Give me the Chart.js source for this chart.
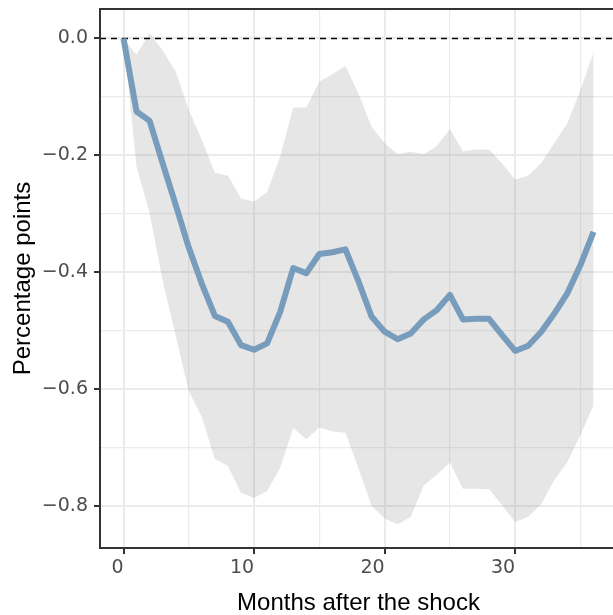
<!DOCTYPE html>
<html>
<head>
<meta charset="utf-8">
<script src="https://cdn.jsdelivr.net/npm/chart.js@4"></script>
<style>
html, body { margin:0; padding:0; overflow:hidden; background:#fff; }
#wrap { position:absolute; left:0; top:0; width:620px; height:615px; }
</style>
</head>
<body>
<div id="wrap"><canvas id="c"></canvas></div>
<script>
// ---- data ----
const months = [0,1,2,3,4,5,6,7,8,9,10,11,12,13,14,15,16,17,18,19,20,21,22,23,24,25,26,27,28,29,30,31,32,33,34,35,36];
const estimate = [0,-0.125,-0.141,-0.214,-0.285,-0.358,-0.42,-0.475,-0.485,-0.525,-0.533,-0.522,-0.468,-0.393,-0.402,-0.369,-0.366,-0.361,-0.416,-0.476,-0.502,-0.515,-0.505,-0.481,-0.465,-0.439,-0.481,-0.48,-0.48,-0.508,-0.535,-0.526,-0.502,-0.471,-0.436,-0.388,-0.331];
const upperBand = [0,-0.028,0.009,-0.02,-0.057,-0.122,-0.174,-0.23,-0.235,-0.274,-0.279,-0.263,-0.202,-0.118,-0.118,-0.074,-0.061,-0.047,-0.094,-0.151,-0.179,-0.198,-0.194,-0.198,-0.184,-0.155,-0.193,-0.19,-0.19,-0.214,-0.242,-0.235,-0.213,-0.179,-0.145,-0.088,-0.024];
const lowerBand = [0,-0.22,-0.299,-0.415,-0.509,-0.604,-0.648,-0.72,-0.732,-0.778,-0.787,-0.775,-0.735,-0.667,-0.686,-0.666,-0.673,-0.675,-0.736,-0.80,-0.822,-0.832,-0.819,-0.765,-0.747,-0.726,-0.771,-0.771,-0.772,-0.799,-0.828,-0.819,-0.797,-0.756,-0.725,-0.679,-0.628];
const xTicks = [0,5,10,15,20,25,30,35];
const yTicks = [-0.8,-0.7,-0.6,-0.5,-0.4,-0.3,-0.2,-0.1,0.0];
const xTitle = 'Months after the shock';
const yTitle = 'Percentage points';

const pts = arr => months.map((m,i)=>({x:m, y:arr[i]}));
const isMajorX = v => Math.round(v) % 10 === 0;
const isMajorY = v => Math.round(Math.abs(v)*10) % 2 === 0;
const fmtY = v => { const s = Math.abs(v).toFixed(1); return (v < -1e-9 ? '\u2212' : '') + s; };

const zeroLine = {
  id:'zeroLine',
  beforeDatasetDraw(chart, args) {
    if (args.index !== 2) return;
    const {ctx, chartArea:a, scales:{y}} = chart;
    const py = y.getPixelForValue(0);
    ctx.save();
    ctx.beginPath(); ctx.rect(a.left, a.top, a.right-a.left, a.bottom-a.top); ctx.clip();
    ctx.strokeStyle = '#000'; ctx.lineWidth = 1.6; ctx.setLineDash([6,5]);
    ctx.beginPath(); ctx.moveTo(a.left, py); ctx.lineTo(a.right, py); ctx.stroke();
    ctx.restore();
  }
};
const panelBorder = {
  id:'panelBorder',
  afterDraw(chart) {
    const {ctx, chartArea:a} = chart;
    ctx.save();
    ctx.strokeStyle = '#333'; ctx.lineWidth = 2;
    ctx.strokeRect(a.left, a.top, a.right-a.left, a.bottom-a.top);
    ctx.restore();
  }
};

new Chart(document.getElementById('c'), {
  type:'line',
  data:{
    datasets:[
      { data:pts(upperBand), borderWidth:0, pointRadius:0, fill:'+1', backgroundColor:'rgba(128,128,128,0.2)', order:2 },
      { data:pts(lowerBand), borderWidth:0, pointRadius:0, fill:false, order:3 },
      { data:pts(estimate), borderColor:'#789cbb', borderWidth:6, pointRadius:0, fill:false,
        borderJoinStyle:'round', borderCapStyle:'butt', tension:0, order:1 }
    ]
  },
  options:{
    responsive:true, maintainAspectRatio:false, animation:false,
    layout:{ padding:{ top:9, right:3, left:0, bottom:0 } },
    plugins:{ legend:{display:false}, tooltip:{enabled:false} },
    scales:{
      x:{
        type:'linear', min:-1.8, max:37.8,
        afterBuildTicks: s => { s.ticks = xTicks.map(v=>({value:v})); },
        afterFit: s => { s.height = 67; s.paddingLeft = 0; s.paddingRight = 0; },
        grid:{ color:'#ebebeb', lineWidth: c => isMajorX(c.tick.value) ? 2 : 1.2,
               tickColor: c => isMajorX(c.tick.value) ? '#333' : 'rgba(0,0,0,0)',
               tickWidth: 2, tickLength:6, drawTicks:true },
        border:{ display:true, color:'#333', width:2 },
        ticks:{ autoSkip:false, maxRotation:0, align:'end', padding:3, color:'#4d4d4d',
                font:{ family:'DejaVu Sans', size:19 },
                callback: v => isMajorX(v) ? String(v) : '' },
        title:{ display:true, text:xTitle, color:'#000', font:{ family:'Liberation Sans', size:24 }, padding:{top:0,bottom:-3} }
      },
      y:{
        type:'linear', min:-0.8724, max:0.0505,
        afterBuildTicks: s => { s.ticks = yTicks.map(v=>({value:v})); },
        afterFit: s => { s.width = 100; s.paddingTop = 0; s.paddingBottom = 0; },
        grid:{ color:'#ebebeb', lineWidth: c => isMajorY(c.tick.value) ? 2 : 1.2,
               tickColor: c => isMajorY(c.tick.value) ? '#333' : 'rgba(0,0,0,0)',
               tickWidth: 2, tickLength:6, drawTicks:true },
        border:{ display:true, color:'#333', width:2 },
        ticks:{ autoSkip:false, padding:6, color:'#4d4d4d',
                font:{ family:'DejaVu Sans', size:19 },
                callback: v => isMajorY(v) ? fmtY(v) : '' },
        title:{ display:true, text:yTitle, color:'#000', font:{ family:'Liberation Sans', size:24 }, padding:{top:9,bottom:0} }
      }
    }
  },
  plugins:[zeroLine, panelBorder]
});
</script>
</body>
</html>
